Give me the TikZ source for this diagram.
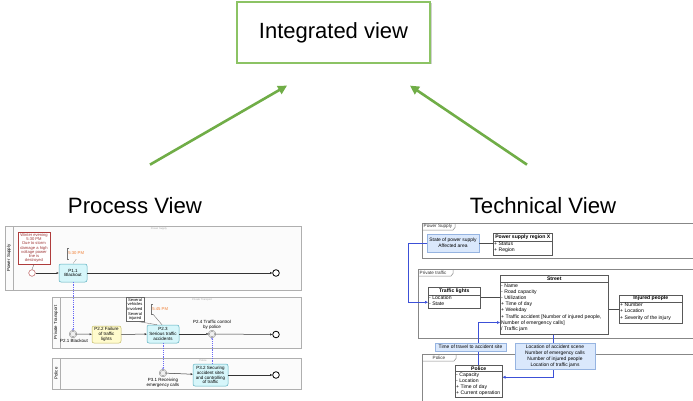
\documentclass[tikz,border=0pt]{standalone}
\usepackage{fontspec}
\setmainfont{Liberation Sans}
\usetikzlibrary{arrows.meta,calc,shadows}

\definecolor{vgreen}{RGB}{112,173,71}
\definecolor{boxgreen}{RGB}{140,195,100}
\definecolor{taskcyan}{RGB}{214,246,250}
\definecolor{taskcyanb}{RGB}{90,175,190}
\definecolor{taskyel}{RGB}{255,251,205}
\definecolor{taskyelb}{RGB}{195,185,100}
\definecolor{annred}{RGB}{175,60,60}
\definecolor{timeor}{RGB}{240,125,50}
\definecolor{msgblue}{RGB}{105,105,245}
\definecolor{poolgray}{RGB}{175,175,175}
\definecolor{poolfill}{RGB}{251,251,251}
\definecolor{notefill}{RGB}{218,232,252}
\definecolor{noteline}{RGB}{150,180,225}
\definecolor{linkblue}{RGB}{60,80,215}
\definecolor{pkggray}{RGB}{135,135,135}

\tikzset{
  ivbox/.style={draw=boxgreen, line width=1.2pt, fill=white, minimum width=193pt,
    minimum height=61pt, font=\fontsize{22}{24}\selectfont,
    general shadow={fill=black!40, shadow xshift=1.5pt, shadow yshift=-1.5pt, opacity=.45}},
  viewlbl/.style={font=\fontsize{22.2}{24}\selectfont, inner sep=0pt},
  garrow/.style={draw=vgreen, line width=2.6pt, -{Triangle[length=9pt,width=9pt]}},
  % process view
  pool/.style={draw=poolgray, line width=.6pt},
  lanelbl/.style={font=\fontsize{4.4}{5}\selectfont, inner sep=0pt, rotate=90},
  faint/.style={font=\fontsize{2.6}{3}\selectfont, text=black!35, inner sep=0pt},
  task/.style={draw=taskcyanb, fill=taskcyan, rounded corners=2pt, line width=.5pt,
    align=center, inner sep=0pt, font=\fontsize{4.5}{4.9}\selectfont},
  startev/.style={circle, draw=annred!85, fill=white, line width=.5pt, minimum size=6.6pt, inner sep=0pt},
  endev/.style={circle, draw=black, fill=white, line width=.8pt, minimum size=6.6pt, inner sep=0pt},
  interev/.style={circle, draw=black!60, fill=black!6, double=white, double distance=.55pt,
    line width=.35pt, minimum size=6.6pt, inner sep=0pt},
  evlbl/.style={font=\fontsize{4.5}{4.9}\selectfont, align=center, inner sep=0pt},
  seq/.style={draw=black!80, line width=.5pt, -{Triangle[length=2.2pt,width=2pt]}},
  msg/.style={draw=msgblue, line width=.5pt, dash pattern=on 1.2pt off 1pt,
    -{Stealth[open,length=2pt,width=2pt]}},
  assoc/.style={draw=black!60, line width=.35pt},
  redann/.style={draw=annred, line width=.5pt, fill=white, text=annred!90!black,
    align=center, inner sep=0pt, minimum width=32pt, minimum height=32pt,
    font=\fontsize{4.1}{4.3}\selectfont},
  grayann/.style={draw=black!60, line width=.4pt, fill=white, align=center, inner sep=0pt,
    minimum width=18pt, minimum height=24pt, font=\fontsize{4.1}{4.6}\selectfont},
  timeann/.style={text=timeor, font=\fontsize{4.2}{4.5}\selectfont, inner sep=1.2pt,
    anchor=west},
  brk/.style={draw=black!55, line width=.4pt},
  % technical view
  pkg/.style={draw=pkggray, line width=.5pt},
  pkglbl/.style={font=\fontsize{4.6}{5}\selectfont, text=black!80, inner sep=0pt},
  clsbox/.style={draw=black!65, line width=.5pt, fill=white, anchor=north west, inner sep=0pt},
  clshead/.style={font=\bfseries\fontsize{5.1}{5.5}\selectfont, inner sep=0pt},
  clsbody/.style={font=\fontsize{5.1}{6.1}\selectfont, align=left, inner sep=1pt, anchor=north west},
  clsrule/.style={draw=black!65, line width=.4pt},
  note/.style={draw=noteline, fill=notefill, line width=.5pt, align=center, inner sep=0pt,
    font=\fontsize{4.9}{6.1}\selectfont},
  blarrow/.style={draw=linkblue, line width=.6pt, -{Triangle[length=3pt,width=2.6pt]}},
  klink/.style={draw=black!70, line width=.6pt},
}

\begin{document}
\begin{tikzpicture}[x=1pt,y=-1pt]
\useasboundingbox (0,0) rectangle (693,401);

% ---------- integrated view and the two source views ----------
\node[ivbox] (iv) at (333.5,32.5) {Integrated view};
\node[viewlbl] (pv) at (135,206) {Process View};
\node[viewlbl] (tv) at (543,206) {Technical View};
\coordinate (pvtail) at ($(pv.north)+(15,-33)$);
\coordinate (pvhead) at ($(iv.south)+(-46.5,22)$);
\coordinate (tvtail) at ($(tv.north)+(-16,-33)$);
\coordinate (tvhead) at ($(iv.south)+(76.5,22)$);
\draw[garrow] (pvtail) -- (pvhead);
\draw[garrow] (tvtail) -- (tvhead);

% ---------- process view: pools ----------
\fill[poolfill] (5,226) rectangle (301,290);
\draw[pool] (5,226) rectangle (301,290);
\draw[pool] (13,226) -- (13,290);
\node[lanelbl] at (9,258) {Power Supply};
\node[faint] at (159,229) {Power Supply};

\fill[poolfill] (52,297) rectangle (301,348);
\draw[pool] (52,297) rectangle (301,348);
\draw[pool] (60,297) -- (60,348);
\node[lanelbl] at (56,322.5) {Private Transport};
\node[faint] at (202,299.5) {Private Transport};

\fill[poolfill] (52,358) rectangle (301,389);
\draw[pool] (52,358) rectangle (301,389);
\draw[pool] (60,358) -- (60,389);
\node[lanelbl] at (56,373.5) {Police};
\node[faint] at (203,360.5) {Police};

% ---------- power supply lane ----------
\node[redann] (a1) at (34,248) {Winter evening\\5:30 PM\\Due to storm\\damage a high\\voltage power\\line is\\destroyed};
\node[startev] (s1) at (32,273) {};
\node[task, minimum width=28pt, minimum height=18pt] (p11) at (73,273) {P1.1\\Blackout};
\node[endev] (e1) at (276,273) {};
\node[timeann, minimum height=11pt] (t1) at (67,253.5) {5:30 PM};
\draw[brk] ([xshift=2pt]t1.north west) -- (t1.north west) -- (t1.south west) -- ([xshift=2pt]t1.south west);
\draw[assoc] (a1.south) -- (s1.north);
\draw[assoc, dash pattern=on .8pt off .6pt] (t1.south) -- (p11.north);
\draw[seq] (s1) -- (p11);
\draw[seq] (p11) -- (e1);

% ---------- private transport lane ----------
\node[interev] (p21) at (73,334) {};
\node[evlbl, anchor=north] (l21) at ($(p21.south)+(1,1.2)$) {P2.1 Blackout};
\node[task, draw=taskyelb, fill=taskyel, minimum width=29pt, minimum height=17pt] (p22) at (106.5,334.5) {P2.2 Failure\\of traffic\\lights};
\node[task, minimum width=32pt, minimum height=18pt] (p23) at (163,334) {P2.3\\Serious traffic\\accidents};
\node[interev] (p24) at (212,334) {};
\node[evlbl, anchor=south] (l24) at ($(p24.north)+(0,-1.2)$) {P2.4 Traffic control\\by police};
\node[endev] (e2) at (276,334.5) {};
\node[grayann] (a2) at (135,309.5) {Several\\vehicles\\involved\\Several\\injured};
\node[timeann, minimum height=10pt] (t2) at (151,309) {5:45 PM};
\draw[brk] ([xshift=2pt]t2.north west) -- (t2.north west) -- (t2.south west) -- ([xshift=2pt]t2.south west);
\draw[assoc] ($(a2.south)+(4,0)$) -- ($(p23.north)+(-6,0)$);
\draw[assoc] ($(t2.south west)+(2,0)$) -- ($(p23.north)+(-1,0)$);
\draw[seq] (p21) -- (p22);
\draw[seq] (p22) -- (p23);
\draw[seq] (p23) -- (p24);
\draw[seq] (p24) -- (e2);

% ---------- police lane ----------
\node[interev] (p31) at (163,373) {};
\node[evlbl, anchor=north] (l31) at ($(p31.south)+(0,1.2)$) {P3.1 Receiving\\emergency calls};
\node[task, minimum width=35pt, minimum height=22pt] (p32) at (210.5,375) {P3.2 Securing\\accident sites\\and controlling\\of traffic};
\node[endev] (e3) at (276,375) {};
\draw[seq] (p31) -- (p32);
\draw[seq] (p32) -- (e3);

% ---------- message flows between lanes ----------
\draw[msg] (p11.south) -- (p21.north);
\draw[msg] (p23.south) -- (p31.north);
\draw[msg] (p32.north -| p24) -- (p24.south);

% ---------- technical view: packages ----------
\draw[pkg] (693,223) -- (422,223) -- (422,258) -- (693,258);
\draw[pkg] (422,230) -- (453,230) -- (455,227.5) -- (455,223);
\node[pkglbl, anchor=west] at (423.5,226.5) {Power Supply};

\draw[pkg] (693,269) -- (418,269) -- (418,338) -- (693,338);
\draw[pkg] (418,276) -- (451,276) -- (453,273.5) -- (453,269);
\node[pkglbl, anchor=west] at (419.5,272.5) {Private traffic};

\draw[pkg] (693,354) -- (422,354) -- (422,401);
\draw[pkg] (422,361) -- (454,361) -- (456,358.5) -- (456,354);
\node[pkglbl] at (439,357.5) {Police};

% ---------- classes ----------
% Power supply region X
\node[clsbox, minimum width=59pt, minimum height=22pt] (psr) at (493,233) {};
\node[clshead] at ($(psr.north)+(0,4)$) {Power supply region X};
\draw[clsrule] ($(psr.north west)+(0,8)$) -- ($(psr.north east)+(0,8)$);
\node[clsbody] at ($(psr.north west)+(0,8)$) {+ Status\\+ Region};

% Traffic lights
\node[clsbox, minimum width=52pt, minimum height=21pt] (tl) at (428,287) {};
\node[clshead] at ($(tl.north)+(0,4)$) {Traffic lights};
\draw[clsrule] ($(tl.north west)+(0,8)$) -- ($(tl.north east)+(0,8)$);
\node[clsbody] at ($(tl.north west)+(0,8)$) {- Location\\- State};

% Street
\node[clsbox, minimum width=108pt, minimum height=59pt] (st) at (500,275) {};
\node[clshead] at ($(st.north)+(0,3.8)$) {Street};
\draw[clsrule] ($(st.north west)+(0,7.5)$) -- ($(st.north east)+(0,7.5)$);
\node[clsbody] at ($(st.north west)+(0,7.8)$) {- Name\\- Road capacity\\- Utilization\\+ Time of day\\+ Weekday\\+ Traffic accident [Number of injured people,\\Number of emergency calls]\\/ Traffic jam};

% Injured people
\node[clsbox, minimum width=63pt, minimum height=28pt] (inj) at (619,295) {};
\node[clshead] at ($(inj.north)+(0,3.6)$) {Injured people};
\draw[clsrule] ($(inj.north west)+(0,7)$) -- ($(inj.north east)+(0,7)$);
\node[clsbody] at ($(inj.north west)+(0,7)$) {+ Number\\+ Location\\+ Severity of the injury};

% Police
\node[clsbox, minimum width=47pt, minimum height=32pt] (pol) at (455,365) {};
\node[clshead] at ($(pol.north)+(0,3.4)$) {Police};
\draw[clsrule] ($(pol.north west)+(0,6.5)$) -- ($(pol.north east)+(0,6.5)$);
\node[clsbody] at ($(pol.north west)+(0,6.5)$) {- Capacity\\- Location\\+ Time of day\\+ Current operation};

% ---------- associations between classes ----------
\node[note, minimum width=52pt, minimum height=18pt] (state) at (453,243) {State of power supply\\Affected area};
\draw[klink] (state.east) -- (state.east -| psr.west);
\draw[klink] (tl.east) -- (tl.east -| st.west);
\draw[klink] (inj.west -| st.east) -- (inj.west);
\draw[blarrow] (state.west) -- ++(-18,0) |- ($(tl.west)+(0,4.5)$);

\draw[blarrow] (pol.north -| 478,0) |- ($(st.south west)+(0,-12)$);
\draw[blarrow] (st.south -| 553,0) |- ($(pol.east)+(0,-4)$);
\node[note, minimum width=71pt, minimum height=8pt] (tt) at (470.5,347) {Time of travel to accident site};
\node[note, minimum width=80pt, minimum height=26pt] (loc) at (555,356) {Location of accident scene\\Number of emergency calls\\Number of injured people\\Location of traffic jams};
\end{tikzpicture}
\end{document}
